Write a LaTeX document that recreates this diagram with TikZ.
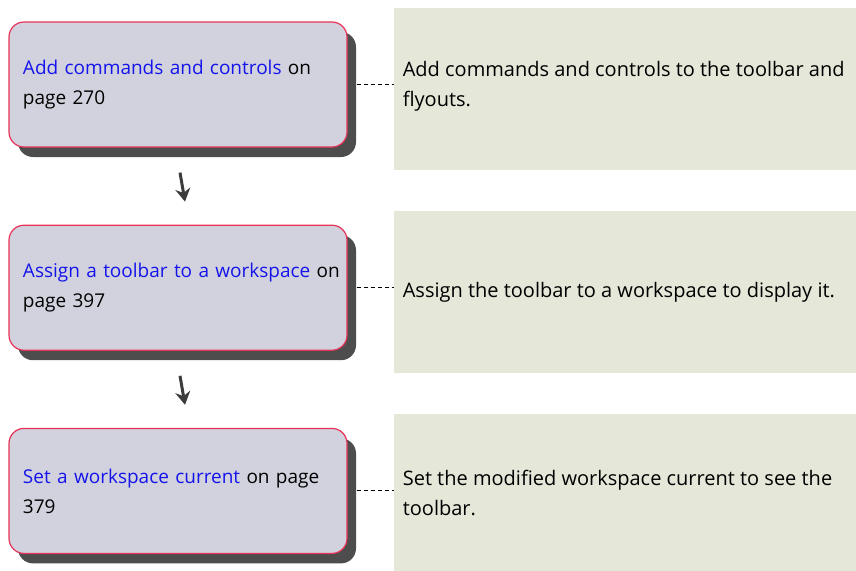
\documentclass[tikz,border=0pt]{standalone}
\usepackage{fontspec}
\setmainfont{Open Sans}
\usepackage{xcolor}
\usetikzlibrary{arrows.meta,positioning,calc,shadows}

\definecolor{linkblue}{RGB}{20,20,235}
\definecolor{stepfill}{RGB}{210,210,222}
\definecolor{stepedge}{RGB}{232,50,88}
\definecolor{notefill}{RGB}{229,232,217}
\definecolor{shadowgray}{RGB}{77,77,77}
\definecolor{flowgray}{RGB}{60,60,60}
\newcommand{\xref}[1]{\textcolor{linkblue}{#1}}

\begin{document}
\begin{tikzpicture}[x=1pt, y=1pt,
  stepbox/.style={draw=stepedge, line width=1.2pt, rounded corners=15pt, fill=stepfill,
                  minimum width=338pt, minimum height=125pt, text width=310pt,
                  align=left, inner sep=0pt,
                  drop shadow={shadow xshift=9pt, shadow yshift=-10pt,
                               fill=shadowgray, opacity=1},
                  font=\fontsize{19}{30}\selectfont},
  notebox/.style={fill=notefill, minimum width=463pt, minimum height=162pt,
                  inner sep=0pt, anchor=north west},
  notetext/.style={align=left, anchor=west, inner sep=0pt,
                   font=\fontsize{20}{30}\selectfont},
  tie/.style={dash pattern=on 4pt off 3pt, line width=1.1pt},
  flow/.style={-{Stealth[length=13pt, width=15pt]}, line width=3pt, draw=flowgray},
  node distance=77pt
]
\useasboundingbox (0,0) rectangle (856,-570);

% ── Steps (left column) ──────────────────────────────────────────────────────
\node[stepbox] (add) at (178,-84.5)
  {\mbox{\xref{Add commands and controls} on}\\page 270};
\node[stepbox, below=of add] (assign)
  {\mbox{\xref{Assign a toolbar to a workspace} on}\\page 397};
\node[stepbox, below=of assign] (setws)
  {\mbox{\xref{Set a workspace current} on page}\\379};

% ── Notes (right column) ─────────────────────────────────────────────────────
\node[notebox] (addpanel)    at ($(add.north east)+(46,14)$) {};
\node[notebox] (assignpanel) at ($(assign.north east)+(46,14)$) {};
\node[notebox] (setwspanel)  at ($(setws.north east)+(46,14)$) {};

\node[notetext] (addnote) at ($(addpanel.west |- add.east)+(9,-2)$)
  {Add commands and controls to the toolbar and\\flyouts.};
\node[notetext] (assignnote) at ($(assignpanel.west |- assign.east)+(9,-5)$)
  {Assign the toolbar to a workspace to display it.};
\node[notetext] (setwsnote) at ($(setwspanel.west |- setws.east)+(9,-2)$)
  {Set the modified workspace current to see the\\toolbar.};

% ── Dashed ties ──────────────────────────────────────────────────────────────
\coordinate (addtie)    at ($(add.east)+(9,0)$);
\coordinate (assigntie) at ($(assign.east)+(9,0)$);
\coordinate (setwstie)  at ($(setws.east)+(9,0)$);
\draw[tie] (addtie)    -- (addtie -| addpanel.west);
\draw[tie] (assigntie) -- (assigntie -| assignpanel.west);
\draw[tie] (setwstie)  -- (setwstie -| setwspanel.west);

% ── Flow arrows ──────────────────────────────────────────────────────────────
\coordinate (f1a) at ($(add.south)+(2,-25)$);
\coordinate (f1b) at ($(add.south)+(7,-54)$);
\coordinate (f2a) at ($(assign.south)+(2,-25)$);
\coordinate (f2b) at ($(assign.south)+(7,-54)$);
\draw[flow] (f1a) -- (f1b);
\draw[flow] (f2a) -- (f2b);
\end{tikzpicture}
\end{document}
